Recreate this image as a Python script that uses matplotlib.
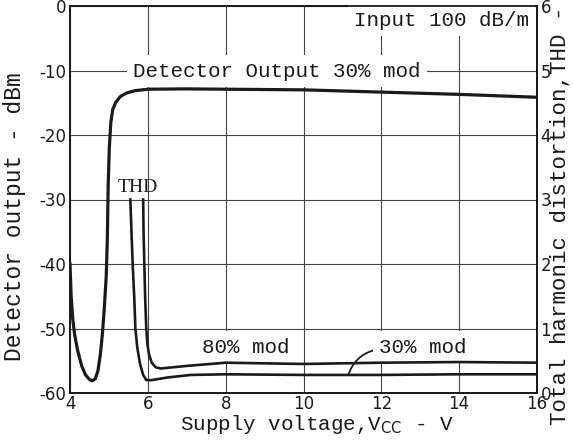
import matplotlib
matplotlib.use("Agg")
import matplotlib.pyplot as plt

# Detector output (dBm), 30% mod, input 100 dB/m
det_v = [4.0, 4.03, 4.07, 4.12, 4.2, 4.3, 4.4, 4.5, 4.57, 4.65, 4.72, 4.78, 4.83,
         4.88, 4.93, 4.96, 4.98, 5.01, 5.05, 5.1, 5.18, 5.3, 5.45, 5.65, 6.0,
         7.0, 8.0, 10.0, 12.0, 14.0, 16.0]
det_dbm = [-40, -45, -48.5, -51, -53.5, -55.8, -57.2, -57.9, -58.1, -57.8, -56.5,
           -54, -51, -47, -42, -36, -28, -22, -18, -16, -14.9, -14.0, -13.5,
           -13.15, -12.9, -12.85, -12.9, -13.0, -13.35, -13.7, -14.15]

# THD (%), 30% mod
thd30_v = [5.55, 5.58, 5.61, 5.65, 5.68, 5.73, 5.8, 5.88, 5.96, 6.1, 6.5, 7.1,
           8.0, 10.0, 12.0, 14.0, 16.0]
thd30 = [3.0, 2.5, 2.0, 1.5, 1.0, 0.7, 0.45, 0.28, 0.2, 0.2, 0.24, 0.28,
         0.29, 0.28, 0.28, 0.29, 0.29]

# THD (%), 80% mod
thd80_v = [5.88, 5.89, 5.91, 5.93, 5.96, 5.99, 6.03, 6.1, 6.2, 6.33, 7.0, 8.0,
           10.0, 12.0, 14.0, 16.0]
thd80 = [3.0, 2.5, 2.0, 1.5, 1.0, 0.75, 0.6, 0.47, 0.4, 0.38, 0.42, 0.47,
         0.45, 0.47, 0.48, 0.47]

x_ticks = [4, 6, 8, 10, 12, 14, 16]
dbm_ticks = [0, -10, -20, -30, -40, -50, -60]
thd_ticks = [0, 1, 2, 3, 4, 5, 6]

mono = "Liberation Mono"
tick_font = ["Liberation Sans Narrow", "DejaVu Sans"]
plt.rcParams["mathtext.fontset"] = "dejavusans"
plt.rcParams["axes.unicode_minus"] = False
ink = "#1a1a1a"

fig = plt.figure(figsize=(5.73, 4.41), dpi=100)
ax = fig.add_axes([70 / 573, 1 - 393 / 441, 467 / 573, 387 / 441])
ax.set_xlim(4, 16)
ax.set_ylim(-60, 0)
ax.set_xticks(x_ticks)
ax.set_yticks(dbm_ticks)
ax.set_axisbelow(True)
ax.grid(True, color="#444444", lw=0.8)
ax.tick_params(length=0, labelsize=12, colors=ink)
ax.tick_params(axis="y", pad=2.5)
ax.tick_params(axis="x", pad=1.5)
for lab in ax.get_xticklabels() + ax.get_yticklabels():
    lab.set_family(tick_font)

ax2 = ax.twinx()
ax2.set_ylim(0, 6)
ax2.set_yticks(thd_ticks)
ax2.tick_params(length=0, labelsize=12, pad=2.5, colors=ink)
for lab in ax2.get_yticklabels():
    lab.set_family(tick_font)

for a in (ax, ax2):
    for s in a.spines.values():
        s.set_linewidth(1.3)
        s.set_color(ink)

ax.plot(det_v, det_dbm, color=ink, lw=2.3, solid_joinstyle="round", zorder=2)
ax2.plot(thd30_v, thd30, color=ink, lw=1.9, solid_joinstyle="round")
ax2.plot(thd80_v, thd80, color=ink, lw=1.9, solid_joinstyle="round")

box = dict(fc="white", ec="none", boxstyle="square,pad=0.3")
ax.text(5.62, -10.1, "Detector Output 30% mod", family=mono, fontsize=15,
        va="center", ha="left", color=ink, bbox=box)
ax.text(11.3, -2.2, "Input 100 dB/m", family=mono, fontsize=15,
        va="center", ha="left", color=ink, bbox=box)
ax.text(5.75, -28.1, "THD", family="Liberation Serif", fontsize=14,
        va="center", ha="center", color=ink)
ax.text(7.4, -52.9, "80% mod", family=mono, fontsize=15,
        va="center", ha="left", color=ink, bbox=box)
ax.annotate("30% mod", xy=(11.15, -57.2), xytext=(11.95, -52.9),
            family=mono, fontsize=15, va="center", ha="left", color=ink,
            bbox=box,
            arrowprops=dict(arrowstyle="-", color=ink, lw=1.3, relpos=(0, 0.4),
                            connectionstyle="arc3,rad=0.3", shrinkA=0, shrinkB=0))

fig.text(317 / 573, 1 - 430 / 441, "Supply voltage,V$_\\mathsf{CC}$ - V",
         family=mono, fontsize=15, ha="center", va="baseline", color=ink)
fig.text(15 / 573, 1 - 217 / 441, "Detector output - dBm", family=mono,
         fontsize=16.5, rotation=90, ha="center", va="center", color=ink)
fig.text(561 / 573, 1 - 425 / 441, "Total harmonic distortion,THD - %",
         family=mono, fontsize=16.2, rotation=90, ha="center", va="bottom",
         color=ink)

fig.savefig("out.png", dpi=100, facecolor="white")
